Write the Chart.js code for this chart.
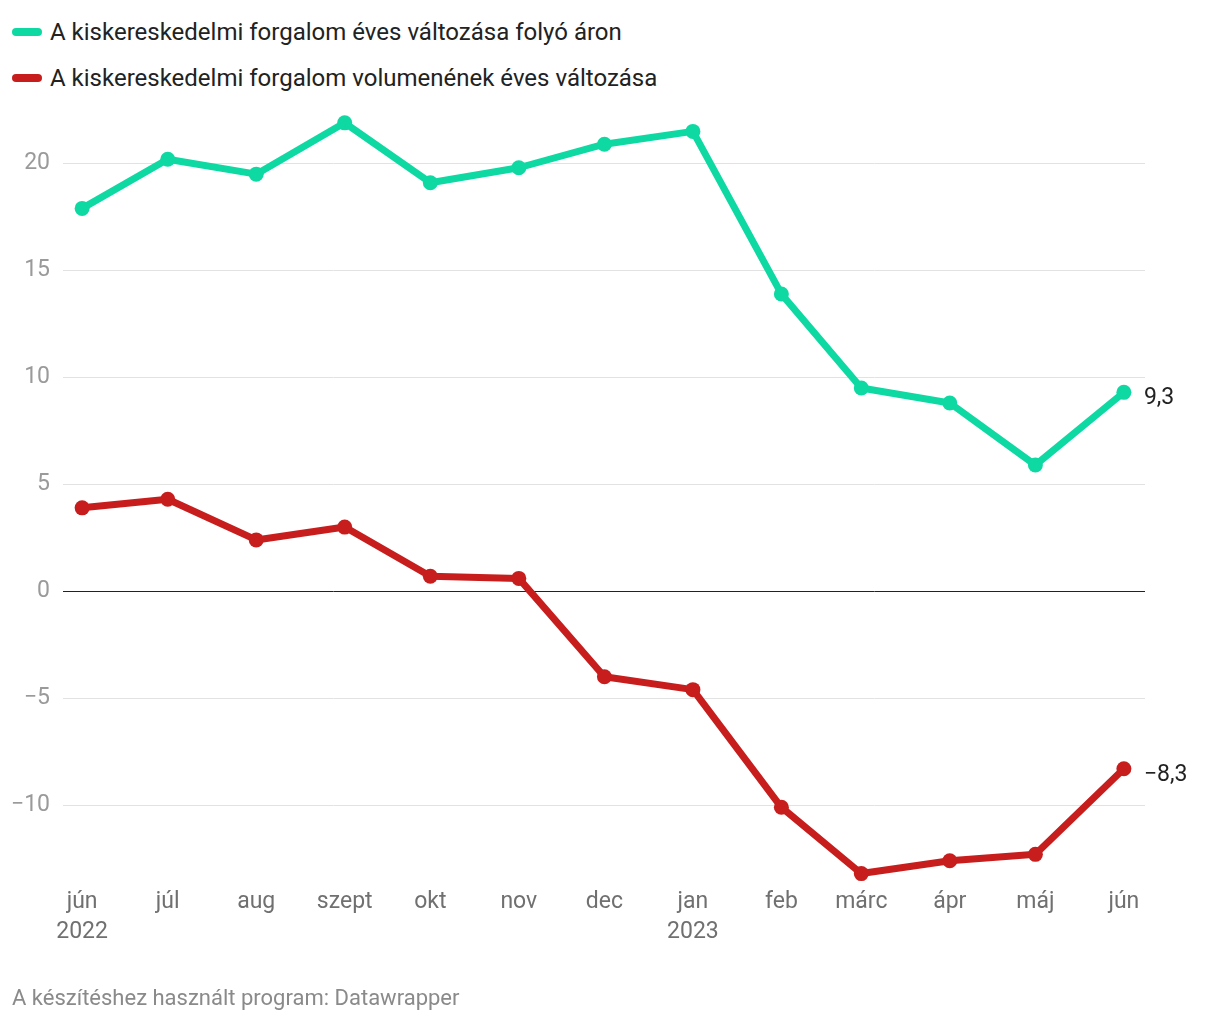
<!DOCTYPE html>
<html>
<head>
<meta charset="utf-8">
<script src="https://cdn.jsdelivr.net/npm/chart.js@4"></script>
<style>
  html, body { margin: 0; padding: 0; background: #fff; }
  body { width: 1220px; height: 1020px; position: relative; font-family: Roboto, sans-serif; overflow: hidden; }
  #chart { position: absolute; left: 0; top: 0; }
  .legend { position: absolute; left: 12px; font-size: 24px; color: #222; display: flex; align-items: center; }
  .legend .swatch { width: 30px; height: 8px; border-radius: 4px; margin-right: 8px; }
  .footer { position: absolute; left: 12px; top: 985px; font-size: 22px; color: #8a8a8a; }
</style>
</head>
<body>
<div class="legend" style="top:18px"><span class="swatch" style="background:#0fd9a3"></span>A kiskereskedelmi forgalom éves változása folyó áron</div>
<div class="legend" style="top:64px"><span class="swatch" style="background:#c71e1d"></span>A kiskereskedelmi forgalom volumenének éves változása</div>
<canvas id="chart" width="1220" height="1020"></canvas>
<div class="footer">A készítéshez használt program: Datawrapper</div>
<script>
// months shown on the x axis
const months = ["2022-06", "2022-07", "2022-08", "2022-09", "2022-10", "2022-11", "2022-12",
  "2023-01", "2023-02", "2023-03", "2023-04", "2023-05", "2023-06"]
const monthLabels = ["jún", "júl", "aug", "szept", "okt", "nov", "dec", "jan", "feb", "márc", "ápr", "máj", "jún"]
const yearLabels = ["2022", "", "", "", "", "", "", "2023", "", "", "", "", ""]

// yearly change, %
const nominal = [17.9, 20.2, 19.5, 21.9, 19.1, 19.8, 20.9, 21.5, 13.9, 9.5, 8.8, 5.9, 9.3]
const volume = [3.9, 4.3, 2.4, 3.0, 0.7, 0.6, -4.0, -4.6, -10.1, -13.2, -12.6, -12.3, -8.3]

const yTicks = [-10, -5, 0, 5, 10, 15, 20]

const GREEN = "#0fd9a3"
const RED = "#c71e1d"

// day offset of each month from the first one, so spacing follows real month lengths
const start = Date.UTC(2022, 5, 1)
const days = months.map((m) => {
  const [y, mo] = m.split("-").map(Number)
  return (Date.UTC(y, mo - 1, 1) - start) / 86400000
})

const fmt = (v) => String(v).replace(".", ",").replace("-", "\u2212")

const endLabels = {
  id: "endLabels",
  afterDatasetsDraw(chart) {
    const ctx = chart.ctx
    ctx.save()
    ctx.font = "23px Roboto"
    ctx.fillStyle = "#222"
    ctx.textBaseline = "middle"
    ctx.textAlign = "left"
    chart.data.datasets.forEach((ds, i) => {
      const meta = chart.getDatasetMeta(i)
      const last = meta.data[meta.data.length - 1]
      const v = ds.data[ds.data.length - 1].y
      ctx.fillText(fmt(v), last.x + 20, last.y + 6)
    })
    ctx.restore()
  },
}

new Chart(document.getElementById("chart"), {
  type: "line",
  data: {
    datasets: [
      {
        label: "A kiskereskedelmi forgalom éves változása folyó áron",
        data: days.map((d, i) => ({ x: d, y: nominal[i] })),
        borderColor: GREEN,
        backgroundColor: GREEN,
      },
      {
        label: "A kiskereskedelmi forgalom volumenének éves változása",
        data: days.map((d, i) => ({ x: d, y: volume[i] })),
        borderColor: RED,
        backgroundColor: RED,
      },
    ],
  },
  options: {
    responsive: false,
    animation: false,
    clip: false,
    layout: { padding: { top: 110, right: 75, bottom: 0, left: 0 } },
    elements: {
      line: { borderWidth: 7, tension: 0, borderCapStyle: "round", borderJoinStyle: "round" },
      point: { radius: 7.5, hoverRadius: 7.5, borderWidth: 0 },
    },
    plugins: { legend: { display: false }, tooltip: { enabled: false } },
    scales: {
      x: {
        type: "linear",
        min: -6.7,
        max: 372.4,
        afterBuildTicks: (scale) => {
          scale.ticks = days.map((d) => ({ value: d }))
        },
        afterFit: (scale) => {
          scale.height = 140
        },
        ticks: {
          autoSkip: false,
          maxRotation: 0,
          padding: -1,
          color: "#707070",
          font: { family: "Roboto", size: 23, lineHeight: "30px" },
          callback: (v) => {
            const i = days.indexOf(v)
            if (i < 0) return ""
            return yearLabels[i] ? [monthLabels[i], yearLabels[i]] : monthLabels[i]
          },
        },
        grid: { display: false },
        border: { display: false },
      },
      y: {
        min: -13.5,
        max: 22.5,
        afterBuildTicks: (scale) => {
          scale.ticks = yTicks.map((v) => ({ value: v }))
        },
        afterFit: (scale) => {
          scale.width = 63
        },
        ticks: {
          padding: 13,
          color: "#9a9a9a",
          font: { family: "Roboto", size: 23 },
          callback: (v) => fmt(v),
        },
        grid: {
          drawTicks: false,
          lineWidth: 1,
          color: (c) => (c.tick && c.tick.value === 0 ? "#222" : "#e2e2e2"),
        },
        border: { display: false },
      },
    },
  },
  plugins: [endLabels],
})
</script>
</body>
</html>
